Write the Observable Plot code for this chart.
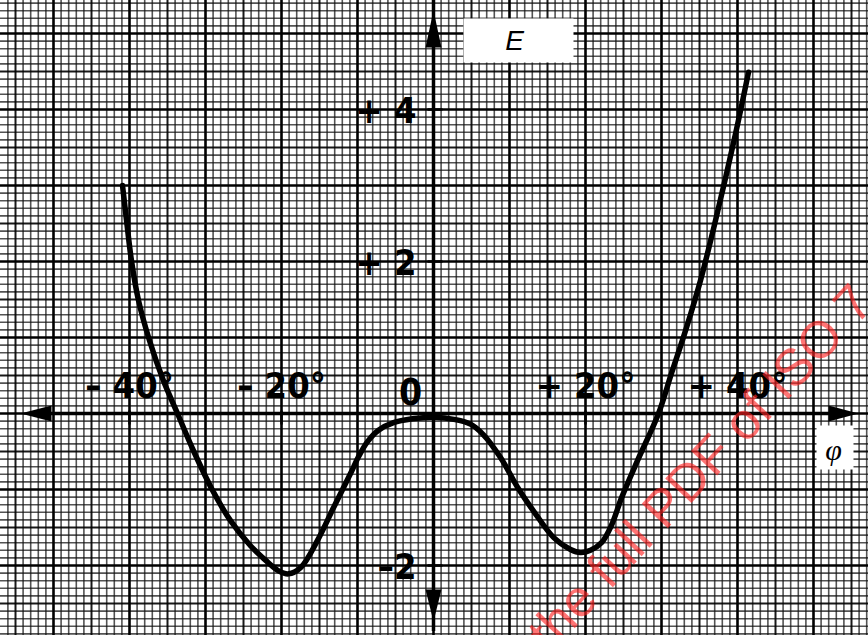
<!DOCTYPE html>
<html><head><meta charset="utf-8">
<script src="https://cdn.jsdelivr.net/npm/d3@7"></script>
<script src="https://cdn.jsdelivr.net/npm/@observablehq/plot@0.6"></script>
<style>body{margin:0;background:#fff}</style>
</head><body><div id="chart"></div>
<script>
// ---- data ----
const phi = [-40.92, -40.39, -39.74, -38.82, -37.37, -35.53, -33.68, -31.58, -29.08, -26.71, -24.08, -22.11, -20.39, -19.08, -17.5, -15.26, -13.16, -10.92, -9.87, -8.68, -7.24, -5.26, -2.76, 0, 2.89, 4.87, 6.58, 8.82, 11.18, 13.42, 15.79, 18.03, 19.34, 20.66, 22.11, 23.42, 24.74, 26.84, 29.61, 31.32, 33.16, 35.13, 37.11, 39.74, 41.45];
const energy = [3.0, 2.54, 2.01, 1.49, 0.96, 0.43, 0.0, -0.49, -1.01, -1.41, -1.74, -1.93, -2.07, -2.11, -2.03, -1.67, -1.24, -0.79, -0.57, -0.37, -0.22, -0.12, -0.07, -0.05, -0.08, -0.14, -0.28, -0.58, -0.99, -1.32, -1.63, -1.79, -1.83, -1.8, -1.7, -1.47, -1.11, -0.62, 0.0, 0.53, 1.09, 1.75, 2.54, 3.68, 4.49];
const xTicks = [-40, -20, 20, 40];
const xTickLabels = ["– 40°", "– 20°", "+ 20°", "+ 40°"];
const yTicks = [4, 2, -2];
const yTickLabels = ["+ 4", "+ 2", "–2"];
const originLabel = "0";
const yAxisTitle = "E";
const xAxisTitle = "φ";
const watermark = "the full PDF of ISO 7";

// ---- layout ----
const W = 868, H = 635;
const pxPerDeg = 7.6, pxPerUnit = 76, originX = 433, originY = 413;
const xDomain = [-originX / pxPerDeg, (W - originX) / pxPerDeg];
const yDomain = [-(H - originY) / pxPerUnit, originY / pxPerUnit];
const xAxisExt = [(20 - originX) / pxPerDeg, (858 - originX) / pxPerDeg];
const yAxisExt = [(originY - 621) / pxPerUnit, (originY - 10) / pxPerUnit];

const curveData = phi.map((p, i) => ({phi: p, E: energy[i]}));

// graph paper lines
const gxi = d3.range(Math.ceil(xDomain[0]), Math.floor(xDomain[1]) + 1);
const gyi = d3.range(Math.ceil(yDomain[0] * 10), Math.floor(yDomain[1] * 10) + 1);
const minorX = gxi.filter(i => i % 5 !== 0);
const medX = gxi.filter(i => i % 5 === 0 && i % 10 !== 0);
const majX = gxi.filter(i => i % 10 === 0);
const minorY = gyi.filter(i => i % 5 !== 0).map(i => i / 10);
const medY = gyi.filter(i => i % 5 === 0 && i % 10 !== 0).map(i => i / 10);
const majY = gyi.filter(i => i % 10 === 0).map(i => i / 10);

// glyphs
const arrowRight = {draw(c){c.moveTo(0,0);c.lineTo(-30,-8);c.lineTo(-30,8);c.closePath();}};
const arrowLeft  = {draw(c){c.moveTo(0,0);c.lineTo(31,-8);c.lineTo(31,8);c.closePath();}};
const arrowUp    = {draw(c){c.moveTo(0,0);c.lineTo(-8,37);c.lineTo(8,37);c.closePath();}};
const arrowDown  = {draw(c){c.moveTo(0,0);c.lineTo(-8,-32);c.lineTo(8,-32);c.closePath();}};
const xTickSym = {draw(c){c.moveTo(0,-3);c.lineTo(0,11);}};
const yTickSym = {draw(c){c.moveTo(-6,0);c.lineTo(9,0);}};
const eBox = {draw(c){c.rect(-55,-22,110,44);}};
const phiBox = {draw(c){c.rect(-18,-22,37,44);}};

const labelFont = "'Liberation Sans Narrow', 'DejaVu Sans Condensed', 'Arial Narrow', sans-serif";

const chart = Plot.plot({
  width: W, height: H,
  margin: 0,
  style: {background: "#fff", overflow: "hidden"},
  x: {domain: xDomain, axis: null},
  y: {domain: yDomain, axis: null},
  marks: [
    Plot.ruleX(minorX, {stroke: "#111", strokeOpacity: 0.72, strokeWidth: 1.6}),
    Plot.ruleY(minorY, {stroke: "#111", strokeOpacity: 0.72, strokeWidth: 1.6}),
    Plot.ruleX(medX, {stroke: "#000", strokeOpacity: 0.9, strokeWidth: 2}),
    Plot.ruleY(medY, {stroke: "#000", strokeOpacity: 0.9, strokeWidth: 2}),
    Plot.ruleX(majX, {stroke: "#000", strokeWidth: 2.6}),
    Plot.ruleY(majY, {stroke: "#000", strokeWidth: 2.6}),
    // white label boxes
    Plot.dot([yAxisTitle], {x: 0, y: yDomain[1], dx: 85, dy: 40, symbol: eBox, fill: "#fff", stroke: "none"}),
    Plot.dot([xAxisTitle], {x: xDomain[1], y: 0, dx: -34, dy: 34, symbol: phiBox, fill: "#fff", stroke: "none"}),
    // axes
    Plot.ruleY([0], {x1: xAxisExt[0], x2: xAxisExt[1], stroke: "#000", strokeWidth: 3.5, insetLeft: 10, insetRight: 10}),
    Plot.ruleX([0], {y1: yAxisExt[0], y2: yAxisExt[1], stroke: "#000", strokeWidth: 3.5, insetTop: 10, insetBottom: 10}),
    Plot.dot([0], {x: xAxisExt[1], y: 0, symbol: arrowRight, fill: "#000", stroke: "none"}),
    Plot.dot([0], {x: xAxisExt[0], y: 0, symbol: arrowLeft, fill: "#000", stroke: "none"}),
    Plot.dot([0], {x: 0, y: yAxisExt[1], symbol: arrowUp, fill: "#000", stroke: "none"}),
    Plot.dot([0], {x: 0, y: yAxisExt[0], symbol: arrowDown, fill: "#000", stroke: "none"}),
    // ticks
    Plot.dot(xTicks, {x: d => d, y: 0, symbol: xTickSym, fill: "none", stroke: "#000", strokeWidth: 2.5}),
    Plot.dot(yTicks, {x: 0, y: d => d, symbol: yTickSym, fill: "none", stroke: "#000", strokeWidth: 2.5}),
    // curve
    Plot.line(curveData, {x: "phi", y: "E", curve: "catmull-rom", stroke: "#000", strokeWidth: 5.5, strokeLinecap: "round", strokeLinejoin: "round"}),
    // tick labels
    Plot.text(xTicks, {x: d => d, y: 0, text: (d, i) => xTickLabels[i], dx: 0, dy: -27, fontSize: 36, fontWeight: "bold", fontFamily: labelFont, fill: "#000"}),
    Plot.text([originLabel], {x: 0, y: 0, text: d => d, dx: -23, dy: -20, fontSize: 37, fontWeight: "bold", fontFamily: labelFont, fill: "#000"}),
    Plot.text(yTicks, {x: 0, y: d => d, text: (d, i) => yTickLabels[i], textAnchor: "end", dx: -17, dy: 2, fontSize: 36, fontWeight: "bold", fontFamily: labelFont, fill: "#000"}),
    // axis titles
    Plot.text([yAxisTitle], {x: 0, y: yDomain[1], text: d => d, dx: 81, dy: 41, fontSize: 28, fontStyle: "italic", fontFamily: "'Liberation Sans', Arial, sans-serif", fill: "#000"}),
    Plot.text([xAxisTitle], {x: xDomain[1], y: 0, text: d => d, dx: -35, dy: 37, fontSize: 30, fontStyle: "italic", fontFamily: "'Liberation Serif', 'Times New Roman', serif", fill: "#000"}),
    // watermark
    Plot.text([watermark], {x: 35.2, y: -0.72, text: d => d, rotate: -47, fontSize: 52, fontFamily: "'Liberation Sans', Arial, sans-serif", fill: "#ff2020", fillOpacity: 0.62})
  ]
});
document.getElementById("chart").append(chart);
</script>
</body></html>
